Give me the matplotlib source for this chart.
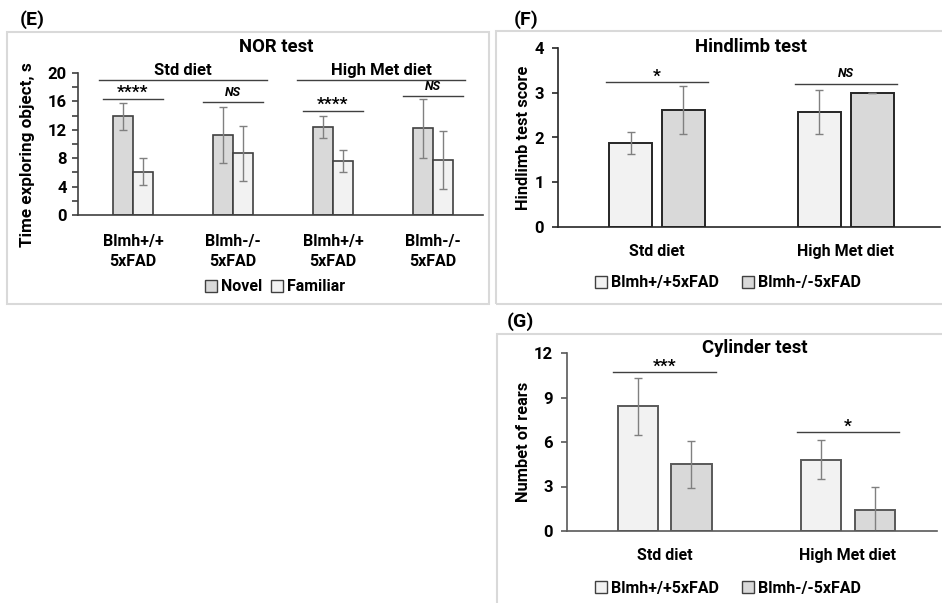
import matplotlib
matplotlib.use("Agg")
import matplotlib.pyplot as plt
from matplotlib.patches import Rectangle
import numpy as np

plt.rcParams['font.family'] = ['Roboto', 'DejaVu Sans']
plt.rcParams['font.weight'] = 'bold'

W, H = 942, 603

# NOR test (panel E)
nor_labels = ['Blmh+/+\n5xFAD', 'Blmh-/-\n5xFAD', 'Blmh+/+\n5xFAD', 'Blmh-/-\n5xFAD']
nor_novel = [13.9, 11.3, 12.4, 12.2]
nor_novel_err = [1.9, 3.95, 1.5, 4.15]
nor_familiar = [6.1, 8.7, 7.6, 7.8]
nor_familiar_err = [1.9, 3.9, 1.5, 4.1]
nor_sig = ['****', 'NS', '****', 'NS']
nor_sig_y = [16.4, 15.9, 14.7, 16.8]
nor_diets = ['Std diet', 'High Met diet']

# Hindlimb test (panel F)
diet_labels = ['Std diet', 'High Met diet']
hind_wt = [1.88, 2.57]
hind_wt_err = [0.25, 0.5]
hind_ko = [2.61, 3.0]
hind_ko_err = [0.53, 0.0]
hind_sig = ['*', 'NS']
hind_sig_y = [3.24, 3.2]

# Cylinder test (panel G)
cyl_wt = [8.4, 4.8]
cyl_wt_err = [1.9, 1.32]
cyl_ko = [4.5, 1.4]
cyl_ko_err = [1.57, 1.58]
cyl_sig = ['***', '*']
cyl_sig_y = [10.72, 6.68]

light = '#f2f2f2'
dark = '#d9d9d9'
errc = '#808080'


def px_axes(x0, y_top, x1, y_bot):
    return fig.add_axes([x0 / W, 1 - y_bot / H, (x1 - x0) / W, (y_bot - y_top) / H])


def frame(x0, y0, x1, y1):
    fig.patches.append(Rectangle((x0 / W, 1 - y1 / H), (x1 - x0) / W, (y1 - y0) / H,
                                 transform=fig.transFigure, fill=False,
                                 edgecolor='#d9d9d9', lw=1.5))


def style(ax, spine_c):
    for s in ['top', 'right']:
        ax.spines[s].set_visible(False)
    for s in ['left', 'bottom']:
        ax.spines[s].set_color(spine_c)
        ax.spines[s].set_linewidth(1.2)
    ax.tick_params(axis='y', colors=spine_c, labelcolor='black', labelsize=12,
                   length=4, width=1.2, pad=4)
    ax.tick_params(axis='x', length=0, pad=12, labelsize=11.5)


def sig_bar(ax, xc, half, y, txt):
    ax.plot([xc - half, xc + half], [y, y], color='#404040', lw=1, clip_on=False)
    if txt == 'NS':
        ax.text(xc, y + ax.get_ylim()[1] * 0.02, txt, ha='center', va='bottom',
                fontsize=9, fontstyle='italic', fontweight='bold')
    else:
        ax.text(xc, y - ax.get_ylim()[1] * 0.01, txt, ha='center', va='bottom',
                fontsize=12.5, fontweight='bold')


def legend(x, y, labels, colors, edge, spacing):
    handles = [Rectangle((0, 0), 1, 1, facecolor=c, edgecolor=edge, lw=1) for c in colors]
    fig.legend(handles, labels, loc='center', bbox_to_anchor=(x / W, 1 - y / H), ncol=2,
               frameon=False, handlelength=0.75, handleheight=0.75, handletextpad=0.25,
               columnspacing=spacing, prop={'size': 11.5, 'weight': 'bold'})


fig = plt.figure(figsize=(W / 100, H / 100), dpi=100)

frame(7, 32, 489, 304)
frame(496, 31, 945, 304)
frame(497, 334, 945, 610)

# ---- panel E
ax = px_axes(78, 73, 483, 215)
x = np.arange(len(nor_labels))
bw = 0.2
ek = dict(ecolor=errc, elinewidth=1, capsize=3, capthick=1)
ax.bar(x - bw / 2, nor_novel, bw, yerr=nor_novel_err, color=dark, edgecolor='#404040',
       lw=1.2, error_kw=ek, label='Novel')
ax.bar(x + bw / 2, nor_familiar, bw, yerr=nor_familiar_err, color=light, edgecolor='#404040',
       lw=1.2, error_kw=ek, label='Familiar')
ax.set_xlim(-0.55, 3.5)
ax.set_ylim(0, 20)
ax.set_yticks(np.arange(0, 21, 4))
ax.set_yticks(np.arange(0, 21, 2), minor=True)
ax.tick_params(axis='y', which='minor', length=4, width=1.2, colors='#404040')
ax.set_xticks(x)
ax.set_xticklabels(nor_labels, linespacing=1.4)
style(ax, '#404040')
ax.tick_params(axis='x', pad=14)
for xc, t, y in zip(x, nor_sig, nor_sig_y):
    sig_bar(ax, xc, 0.3, y, t)
for i, d in enumerate(nor_diets):
    xc = 2 * i + 0.5 - 0.02 * i
    ax.plot([xc - 0.84, xc + 0.84], [19.06, 19.06], color='#404040', lw=1, clip_on=False)
    ax.text(xc, 19.3, d, ha='center', va='bottom', fontsize=12, fontweight='bold')
fig.text(276 / W, 1 - 47 / H, 'NOR test', ha='center', va='center', fontsize=13.3,
         fontweight='bold')
fig.text(28 / W, 1 - 155 / H, 'Time exploring object, s', ha='center', va='center',
         rotation=90, fontsize=12.3, fontweight='bold')
fig.text(32 / W, 1 - 20 / H, '(E)', ha='center', va='center', fontsize=14, fontweight='bold')
legend(275, 287, ['Novel', 'Familiar'], [dark, light], '#404040', 0.6)

# ---- panel F
ax = px_axes(558, 48, 940, 227)
x = np.arange(len(diet_labels))
bw, off = 0.228, 0.14
ax.bar(x - off, hind_wt, bw, yerr=hind_wt_err, color=light, edgecolor='#262626', lw=1.4,
       error_kw=ek)
ax.bar(x + off, hind_ko, bw, yerr=hind_ko_err, color=dark, edgecolor='#262626', lw=1.4,
       error_kw=ek)
ax.set_xlim(-0.525, 1.5)
ax.set_ylim(0, 4)
ax.set_yticks(np.arange(0, 5, 1))
ax.set_xticks(x)
ax.set_xticklabels(diet_labels)
style(ax, '#262626')
ax.tick_params(axis='y', pad=6)
for xc, t, y in zip(x, hind_sig, hind_sig_y):
    sig_bar(ax, xc, 0.27, y, t)
fig.text(751 / W, 1 - 47 / H, 'Hindlimb test', ha='center', va='center', fontsize=13.3,
         fontweight='bold')
fig.text(523 / W, 1 - 138 / H, 'Hindlimb test score', ha='center', va='center',
         rotation=90, fontsize=11.8, fontweight='bold')
fig.text(526 / W, 1 - 20 / H, '(F)', ha='center', va='center', fontsize=14, fontweight='bold')
legend(728, 283, ['Blmh+/+5xFAD', 'Blmh-/-5xFAD'], [light, dark], '#404040', 1.5)

# ---- panel G
ax = px_axes(567, 353, 937, 531)
x = np.arange(len(diet_labels))
bw, off = 0.22, 0.146
ax.bar(x - off, cyl_wt, bw, yerr=cyl_wt_err, color=light, edgecolor='#595959', lw=1.4,
       error_kw=ek)
ax.bar(x + off, cyl_ko, bw, yerr=cyl_ko_err, color=dark, edgecolor='#595959', lw=1.4,
       error_kw=ek)
ax.set_xlim(-0.533, 1.486)
ax.set_ylim(0, 12)
ax.set_yticks(np.arange(0, 13, 3))
ax.set_xticks(x)
ax.set_xticklabels(diet_labels)
style(ax, '#595959')
ax.tick_params(axis='y', pad=6)
for xc, t, y in zip(x, cyl_sig, cyl_sig_y):
    sig_bar(ax, xc, 0.28, y, t)
fig.text(755 / W, 1 - 348 / H, 'Cylinder test', ha='center', va='center', fontsize=13.3,
         fontweight='bold')
fig.text(523 / W, 1 - 442 / H, 'Numbet of rears', ha='center', va='center',
         rotation=90, fontsize=11.8, fontweight='bold')
fig.text(520 / W, 1 - 322 / H, '(G)', ha='center', va='center', fontsize=14, fontweight='bold')
legend(728, 588, ['Blmh+/+5xFAD', 'Blmh-/-5xFAD'], [light, dark], '#404040', 1.5)

fig.savefig('out.png', dpi=100)
